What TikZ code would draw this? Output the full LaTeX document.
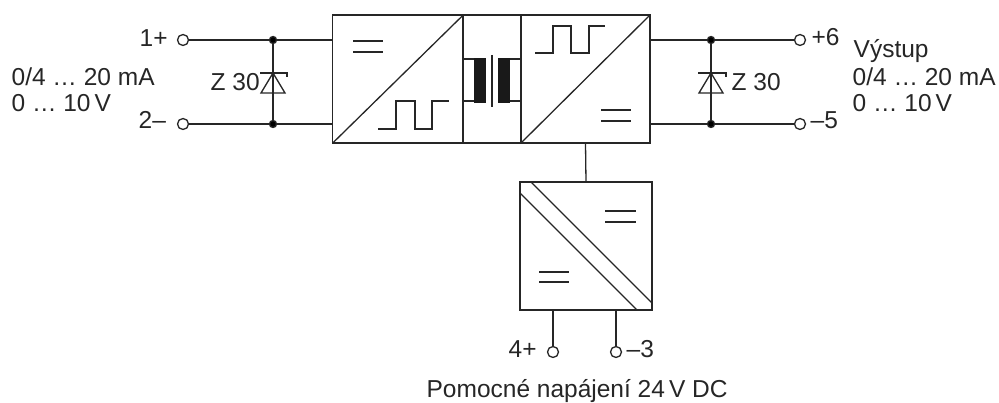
\documentclass[tikz,border=0pt]{standalone}
\usepackage{fontspec}
\setmainfont{Liberation Sans}
\usetikzlibrary{positioning}
\tikzset{
  blockbox/.style={draw,inner sep=0pt,outer sep=0pt,minimum width=#1,minimum height=128pt},
  terminal/.style={draw,circle,fill=white,inner sep=0pt,minimum size=11pt},
  junction/.style={draw,circle,fill=black,inner sep=0pt,minimum size=7pt},
  label/.style={inner sep=0pt,font=\fontsize{24.5}{29}\selectfont}
}
\begin{document}
\begin{tikzpicture}[x=1pt,y=-1pt,line width=1.3pt,color=black!85]
\useasboundingbox (0,0) rectangle (999,403);
% blocks
\node[blockbox=130.5pt] (convin) at (398,79) {};
\node[blockbox=58pt] (trafo) at (492,79) {};
\node[blockbox=129pt] (convout) at (585.5,79) {};
\node[blockbox=132pt] (aux) at (586,246) {};
\draw (convin.south west) -- (convin.north east);
\draw (convout.south west) -- (convout.north east);
\draw (531,182) -- (652,303);
\draw (520,193) -- (637,310);
% transformer
\fill[black!90] (474,58) rectangle (486,103);
\fill[black!90] (498,58) rectangle (510,103);
\draw (492,55) -- (492,107);
\draw (463,59) -- (474,59);
\draw (463,101) -- (474,101);
\draw (510,59) -- (521,59);
\draw (510,101) -- (521,101);
% equal signs
\draw (353,41) -- (383,41);
\draw (353,52) -- (383,52);
\draw (601,110) -- (631,110);
\draw (601,121) -- (631,121);
\draw (605,211) -- (636,211);
\draw (605,222) -- (636,222);
\draw (539,272) -- (569,272);
\draw (539,282) -- (569,282);
% square waves
\draw (378,129) -- (396,129) -- (396,101) -- (415,101) -- (415,129) -- (432,129) -- (432,101) -- (449,101);
\draw (535,53) -- (553,53) -- (553,26) -- (571,26) -- (571,53) -- (589,53) -- (589,26) -- (605,26);
% terminals
\node[terminal] (inplus) at (183,40) {};
\node[terminal] (inminus) at (183,124) {};
\node[terminal] (outplus) at (800,40) {};
\node[terminal] (outminus) at (800,124) {};
\node[terminal] (auxplus) at (553,352) {};
\node[terminal] (auxminus) at (616,352) {};
\node[junction] (intop) at (273,40) {};
\node[junction] (inbot) at (273,124) {};
\node[junction] (outtop) at (711,40) {};
\node[junction] (outbot) at (711,124) {};
% wires
\draw (inplus) -- (intop) -- (convin.west |- intop);
\draw (inminus) -- (inbot) -- (convin.west |- inbot);
\draw (outplus) -- (outtop) -- (convout.east |- outtop);
\draw (outminus) -- (outbot) -- (convout.east |- outbot);
\draw (intop) -- (inbot);
\draw (outtop) -- (outbot);
\draw (convout.south) -- (aux.north);
\draw (aux.south -| auxplus) -- (auxplus);
\draw (aux.south -| auxminus) -- (auxminus);
% zener diodes
\draw (273,73) -- (261,93) -- (285,93) -- cycle;
\draw (260,73) -- (287,73) -- (287,77);
\draw (711,73) -- (699,93) -- (723,93) -- cycle;
\draw (698,73) -- (726,73) -- (726,77);
% texts
\node[label,anchor=base west] (txtinplus) at (139,47) {1+};
\node[label,anchor=base west] (txtinminus) at (138,129) {2–};
\node[label,anchor=base west] (txtoutplus) at (811,46) {+6};
\node[label,anchor=base west] (txtoutminus) at (810,129) {–5};
\node[label,anchor=base west] (txtauxplus) at (508,358) {4+};
\node[label,anchor=base west] (txtauxminus) at (626,358) {–3};
\node[label,anchor=base west] (txtzin) at (210,91) {Z 30};
\node[label,anchor=base west] (txtzout) at (731,91) {Z 30};
\node[label,anchor=base west] (txtinma) at (11,86) {0/4 … 20 mA};
\node[label,anchor=base west] (txtinv) at (11,112) {0 … 10\,V};
\node[label,anchor=base west] (txtout) at (853,58) {Výstup};
\node[label,anchor=base west] (txtoutma) at (852,86) {0/4 … 20 mA};
\node[label,anchor=base west] (txtoutv) at (852,112) {0 … 10\,V};
\node[label,anchor=base west] (txtsupply) at (426,397) {Pomocné napájení 24\,V DC};
\end{tikzpicture}
\end{document}
